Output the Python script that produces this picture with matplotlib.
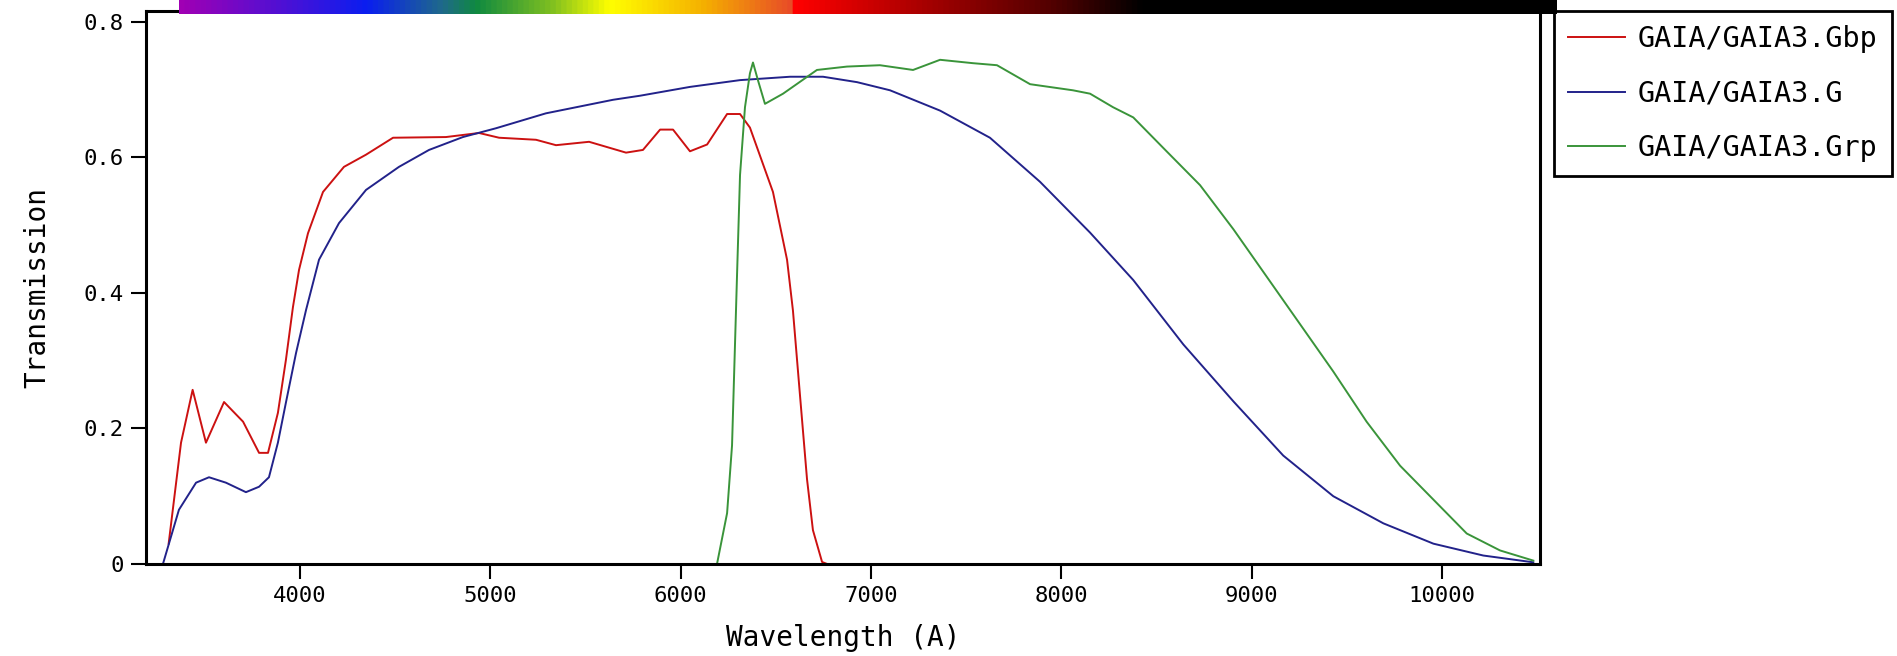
import matplotlib.pyplot as plt
import numpy as np
from matplotlib.colors import LinearSegmentedColormap

# Gaia DR3 passbands
GBP_WL = [3310, 3375, 3436, 3506, 3601, 3701, 3785, 3832, 3884, 3926, 3963, 3995,
          4042, 4121, 4231, 4347, 4489, 4767, 4941, 5046, 5240, 5345, 5519, 5713,
          5802, 5892, 5960, 6049, 6139, 6244, 6312, 6364, 6485, 6559, 6590, 6627,
          6664, 6695, 6743, 6770, 7540]
GBP_T = [0.030, 0.179, 0.257, 0.179, 0.239, 0.210, 0.164, 0.164, 0.223, 0.301, 0.379, 0.434,
         0.488, 0.549, 0.586, 0.604, 0.629, 0.630, 0.636, 0.629, 0.626, 0.618, 0.623, 0.607,
         0.611, 0.641, 0.641, 0.609, 0.619, 0.664, 0.664, 0.644, 0.549, 0.449, 0.374, 0.249,
         0.125, 0.050, 0.003, 0.0, 0.0]

G_WL = [3280, 3364, 3454, 3522, 3611, 3716, 3785, 3837, 3884, 3926, 3979, 4032,
        4100, 4205, 4347, 4520, 4678, 4856, 5030, 5292, 5645, 5787, 6049, 6312,
        6575, 6748, 6927, 7100, 7363, 7625, 7888, 8151, 8378, 8641, 8904, 9166,
        9429, 9692, 9955, 10217, 10480]
G_T = [0.0, 0.080, 0.120, 0.128, 0.120, 0.106, 0.114, 0.128, 0.179, 0.238, 0.311, 0.375,
       0.449, 0.503, 0.552, 0.586, 0.611, 0.630, 0.643, 0.665, 0.685, 0.691, 0.704, 0.714,
       0.719, 0.719, 0.711, 0.699, 0.669, 0.629, 0.564, 0.489, 0.419, 0.324, 0.240, 0.160,
       0.100, 0.060, 0.030, 0.0125, 0.0025]

GRP_WL = [6191, 6244, 6270, 6296, 6312, 6338, 6364, 6380, 6406, 6443, 6538, 6716,
          6874, 7047, 7221, 7363, 7536, 7662, 7836, 8061, 8151, 8272, 8378, 8553,
          8729, 8904, 9079, 9254, 9429, 9604, 9780, 9955, 10130, 10305, 10480]
GRP_T = [0.0, 0.075, 0.175, 0.424, 0.574, 0.674, 0.724, 0.740, 0.714, 0.679, 0.694, 0.729,
         0.734, 0.736, 0.729, 0.744, 0.739, 0.736, 0.708, 0.699, 0.694, 0.674, 0.659, 0.609,
         0.559, 0.494, 0.424, 0.354, 0.284, 0.210, 0.145, 0.095, 0.045, 0.020, 0.005]

X_TICKS = [4000, 5000, 6000, 7000, 8000, 9000, 10000]
Y_TICKS = [0, 0.2, 0.4, 0.6, 0.8]
Y_TICK_LABELS = ["0", "0.2", "0.4", "0.6", "0.8"]

# wavelength colour strip along the top
BAR_STOPS = [
    (0.0, "#a000b4"), (0.135, "#0a1ef0"), (0.19, "#1f6a8a"), (0.215, "#108a40"),
    (0.27, "#80c020"), (0.312, "#ffff00"), (0.38, "#f5b000"), (0.445, "#e84a28"),
    (0.447, "#ff0000"), (0.54, "#a80000"), (0.636, "#500000"), (0.70, "#000000"),
    (1.0, "#000000"),
]

W, H = 1897, 656
plt.rcParams["font.family"] = ["DejaVu Sans Mono"]

fig = plt.figure(figsize=(W / 100, H / 100), dpi=100)
ax = fig.add_axes([146 / W, 1 - 564 / H, (1540 - 146) / W, (564 - 11) / H])

ax.plot(GBP_WL, GBP_T, color="#cc1111", lw=1.4, label="GAIA/GAIA3.Gbp")
ax.plot(G_WL, G_T, color="#22228a", lw=1.4, label="GAIA/GAIA3.G")
ax.plot(GRP_WL, GRP_T, color="#3a943a", lw=1.4, label="GAIA/GAIA3.Grp")

ax.set_xlim(3191, 10515)
ax.set_ylim(0, 0.816)
ax.set_xticks(X_TICKS)
ax.set_yticks(Y_TICKS, labels=Y_TICK_LABELS)
ax.tick_params(direction="out", length=11, width=1.5, labelsize=16, pad=5)
for s in ax.spines.values():
    s.set_linewidth(2.2)
ax.set_xlabel("Wavelength (A)", fontsize=20, labelpad=13)
ax.set_ylabel("Transmission", fontsize=20, labelpad=23)

leg = ax.legend(loc="upper left", bbox_to_anchor=(1554 / W, 1 - 11 / H),
                bbox_transform=fig.transFigure, fontsize=20.5, fancybox=False,
                edgecolor="black", framealpha=1, borderaxespad=0, borderpad=0.5,
                handlelength=2.0, handletextpad=0.45, labelspacing=0.93)
leg.get_frame().set_linewidth(2.0)

cmap = LinearSegmentedColormap.from_list("lam", BAR_STOPS)
cax = fig.add_axes([179 / W, 1 - 14 / H, 1378 / W, 14 / H])
cax.imshow(np.linspace(0, 1, 1024)[None, :], aspect="auto", cmap=cmap)
cax.set_axis_off()

fig.savefig("out.png", dpi=100)
